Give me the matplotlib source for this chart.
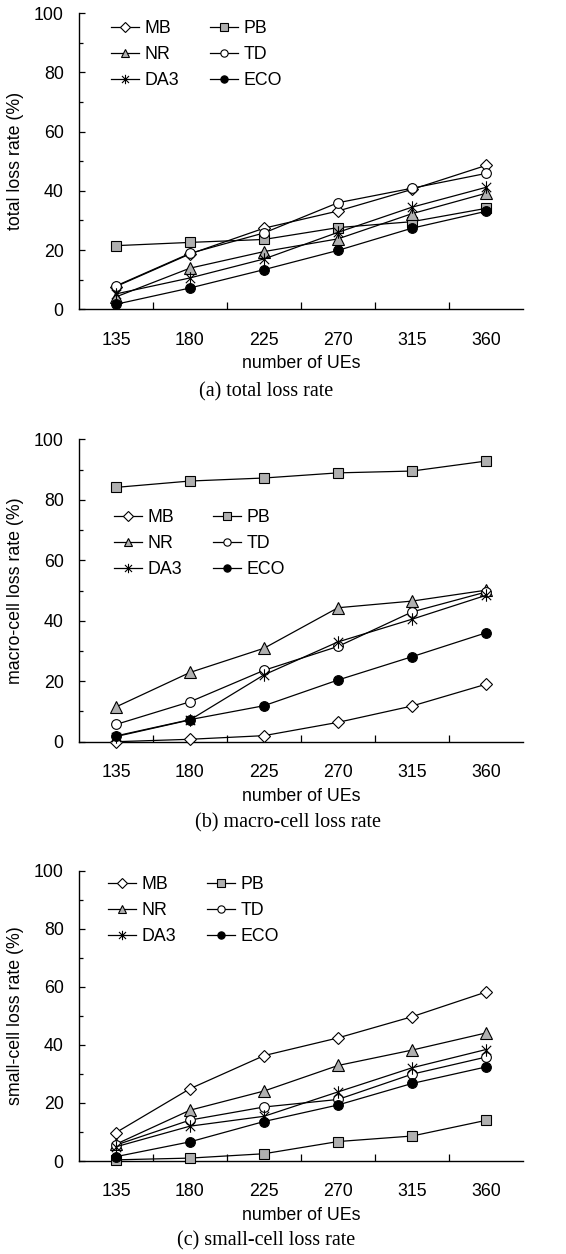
import numpy as np
import matplotlib
matplotlib.use('Agg')
import matplotlib.pyplot as plt
from matplotlib.path import Path

## data
ues = ['135', '180', '225', '270', '315', '360']
series = ['MB', 'PB', 'NR', 'TD', 'DA3', 'ECO']

# (a) total loss rate (%)
total_mb = [7.7, 18.7, 27.4, 33.2, 40.5, 48.6]
total_pb = [21.5, 22.6, 23.6, 27.6, 29.6, 34.1]
total_nr = [4.2, 13.9, 19.5, 23.8, 32.3, 39.2]
total_td = [7.9, 18.9, 25.8, 36.0, 40.9, 45.9]
total_da3 = [5.2, 10.6, 17.0, 26.0, 34.5, 41.2]
total_eco = [1.7, 7.2, 13.4, 19.9, 27.4, 33.1]

# (b) macro-cell loss rate (%)
macro_mb = [0.0, 0.8, 2.0, 6.4, 11.8, 19.0]
macro_pb = [84.1, 86.2, 87.2, 88.9, 89.5, 92.8]
macro_nr = [11.5, 22.9, 30.9, 44.3, 46.5, 50.1]
macro_td = [5.7, 13.2, 23.6, 31.5, 42.9, 49.5]
macro_da3 = [1.7, 7.2, 22.1, 33.0, 40.5, 48.4]
macro_eco = [1.9, 7.3, 11.9, 20.4, 28.1, 36.0]

# (c) small-cell loss rate (%)
small_mb = [9.8, 24.9, 36.3, 42.4, 49.7, 58.2]
small_pb = [0.4, 1.0, 2.5, 6.7, 8.6, 14.0]
small_nr = [5.8, 17.5, 24.1, 32.9, 38.2, 44.1]
small_td = [5.5, 14.1, 18.6, 21.2, 29.9, 35.8]
small_da3 = [4.9, 12.0, 15.4, 23.8, 32.1, 38.4]
small_eco = [1.5, 6.6, 13.6, 19.3, 26.7, 32.4]

ylabels = ['total loss rate (%)', 'macro-cell loss rate (%)', 'small-cell loss rate (%)']
captions = ['(a) total loss rate', '(b) macro-cell loss rate', '(c) small-cell loss rate']

# excel-like star: vertical bar plus an X
star = Path([(0, -1), (0, 1), (-0.75, -0.75), (0.75, 0.75), (-0.75, 0.75), (0.75, -0.75)],
			[Path.MOVETO, Path.LINETO, Path.MOVETO, Path.LINETO, Path.MOVETO, Path.LINETO])

gray = '#b0b0b0'
styles = {
	'MB': dict(marker='D', mfc='white', ms=6.5),
	'PB': dict(marker='s', mfc=gray, ms=7.0),
	'NR': dict(marker='^', mfc=gray, ms=8.0),
	'TD': dict(marker='o', mfc='white', ms=7.0),
	'DA3': dict(marker=star, mfc='none', ms=9.0),
	'ECO': dict(marker='o', mfc='black', ms=7.0),
}

plt.rcParams['font.family'] = ['Liberation Sans', 'DejaVu Sans']
FS = 12.8

fig = plt.figure(figsize=(5.66, 12.54), dpi=100)
W, H = 566.0, 1254.0

# axes boxes in pixels: (left, top, right, bottom)
boxes = [(79, 13.3, 523, 309.3), (79, 439.3, 523, 741.7), (79, 870.7, 523, 1161)]
legend_xy = [(111, 20), (114, 509), (108, 876)]
caption_xy = [(266, 392), (288, 823), (266, 1241)]

panels = [
	[total_mb, total_pb, total_nr, total_td, total_da3, total_eco],
	[macro_mb, macro_pb, macro_nr, macro_td, macro_da3, macro_eco],
	[small_mb, small_pb, small_nr, small_td, small_da3, small_eco],
]

x = np.arange(len(ues))
for i, vals in enumerate(panels):
	l, t, r, b = boxes[i]
	ax = fig.add_axes([l / W, 1 - b / H, (r - l) / W, (b - t) / H])
	lines = {}
	for name, v in zip(series, vals):
		st = styles[name]
		ln, = ax.plot(x, v, color='black', lw=0.9, marker=st['marker'], ms=st['ms'],
			mfc=st['mfc'], mec='black', mew=0.8, label=name, clip_on=False, zorder=3)
		lines[name] = ln
	ax.set_xlim(-0.5, len(ues) - 0.5)
	ax.set_ylim(0, 100)
	ax.spines['top'].set_visible(False)
	ax.spines['right'].set_visible(False)
	ax.spines['left'].set_linewidth(1.0)
	ax.spines['bottom'].set_linewidth(1.0)
	ax.set_xticks(x)
	ax.set_xticklabels(ues)
	ax.set_xticks(np.arange(0.5, len(ues) - 1, 1.0), minor=True)
	ax.tick_params(axis='x', which='major', length=0, pad=16, labelsize=FS)
	ax.tick_params(axis='x', which='minor', direction='in', length=5, width=0.9)
	ax.set_yticks(np.arange(0, 101, 20))
	ax.set_yticks(np.arange(10, 100, 20), minor=True)
	ax.tick_params(axis='y', which='major', direction='in', length=4.5, width=0.9, pad=11, labelsize=FS)
	ax.tick_params(axis='y', which='minor', direction='in', length=3, width=0.9)
	ax.set_xlabel('number of UEs', fontsize=FS)
	ax.xaxis.set_label_coords(0.5, -46 / (b - t))
	ax.set_ylabel(ylabels[i], fontsize=FS)
	ax.yaxis.set_label_coords(-55 / (r - l), 0.5)
	order = ['MB', 'NR', 'DA3', 'PB', 'TD', 'ECO']
	lx, ly = legend_xy[i]
	ax.legend([lines[n] for n in order], order, ncol=2, frameon=False, fontsize=FS,
		loc='upper left', bbox_to_anchor=((lx - l) / (r - l), (b - ly) / (b - t)),
		borderaxespad=0, borderpad=0, handlelength=1.6, handletextpad=0.3,
		columnspacing=1.7, labelspacing=0.5, markerscale=0.75)
	cx, cy = caption_xy[i]
	fig.text(cx / W, 1 - cy / H, captions[i], ha='center', va='center',
		family=['Liberation Serif', 'DejaVu Serif'], fontsize=14.5)

fig.savefig('out.png', dpi=100)
